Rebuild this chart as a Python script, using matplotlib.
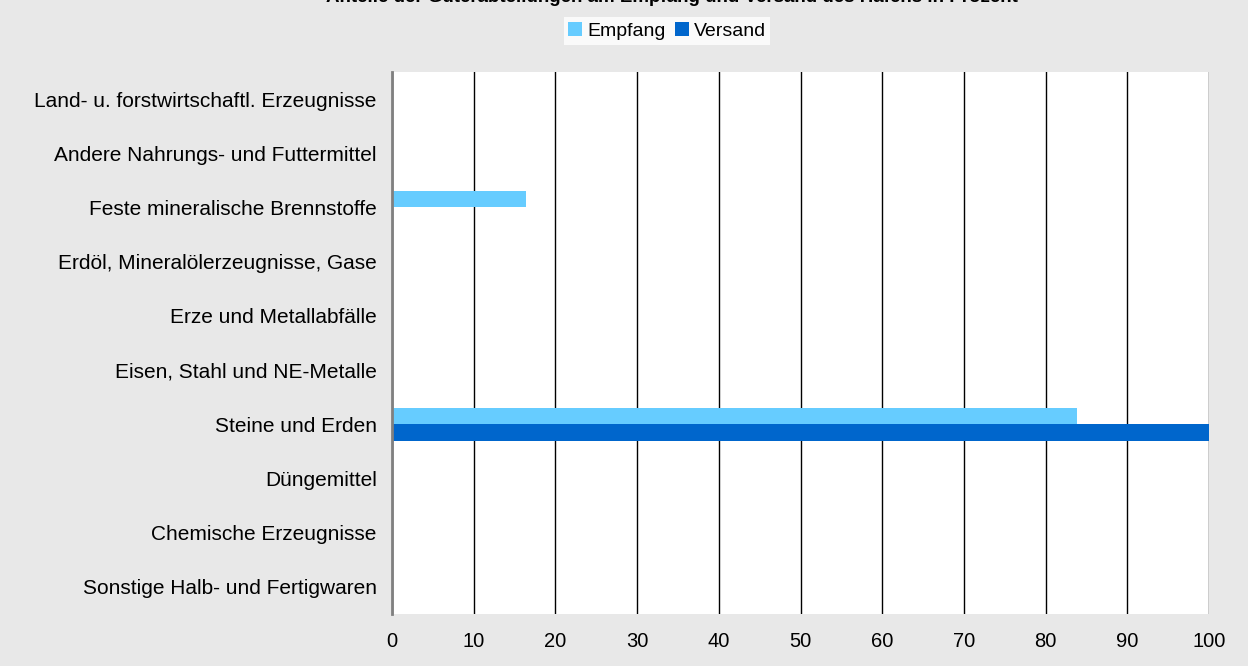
import numpy as np
import matplotlib.pyplot as plt

plt.rcParams['font.family'] = ['Liberation Sans', 'DejaVu Sans']

categories = ['Land- u. forstwirtschaftl. Erzeugnisse',
              'Andere Nahrungs- und Futtermittel',
              'Feste mineralische Brennstoffe',
              'Erdöl, Mineralölerzeugnisse, Gase',
              'Erze und Metallabfälle',
              'Eisen, Stahl und NE-Metalle',
              'Steine und Erden',
              'Düngemittel',
              'Chemische Erzeugnisse',
              'Sonstige Halb- und Fertigwaren']
empfang = [0, 0, 16.4, 0, 0, 0, 83.9, 0, 0, 0]
versand = [0, 0, 0, 0, 0, 0, 100, 0, 0, 0]
xticks = [0, 10, 20, 30, 40, 50, 60, 70, 80, 90, 100]
title = 'Anteile der Güterabteilungen am Empfang und Versand des Hafens in Prozent'

bg = '#e8e8e8'
fig = plt.figure(figsize=(12.48, 6.66), dpi=100, facecolor=bg)
ax = fig.add_axes([392/1248, 1 - 614/666, (1209-392)/1248, (614-72)/666])

y = np.arange(len(categories))
h = 0.3
ax.barh(y - h/2, empfang, height=h, color='#66ccff', label='Empfang', zorder=3)
ax.barh(y + h/2, versand, height=h, color='#0066cc', label='Versand', zorder=3)

ax.set_xlim(0, 100)
ax.set_ylim(len(categories) - 0.5, -0.5)
ax.set_yticks(y)
ax.set_yticklabels(categories, fontsize=15)
ax.set_xticks(xticks)
ax.set_xticklabels([str(t) for t in xticks], fontsize=14.5)
ax.tick_params(axis='both', length=0)
ax.tick_params(axis='x', pad=13)
ax.tick_params(axis='y', pad=11)
ax.grid(axis='x', color='black', linewidth=1, zorder=1)
for s in ['top', 'right', 'bottom']:
    ax.spines[s].set_visible(False)
ax.spines['left'].set_color('#808080')
ax.spines['left'].set_linewidth(2)
ax.spines['left'].set_zorder(4)

# title sits mostly above the top edge, as in the reference
fig.text(672/1248, 1 - 2.2/666, title, ha='center', va='baseline', fontsize=13.5, fontweight='bold')

leg = fig.legend(loc='center', bbox_to_anchor=(667/1248, 1 - 31/666), ncol=2,
                 frameon=True, fancybox=False, edgecolor='white', fontsize=14,
                 handlelength=0.7, handleheight=0.7, handletextpad=0.25, columnspacing=0.5,
                 borderpad=0.25, borderaxespad=0)
leg.get_frame().set_linewidth(0)

fig.savefig('out.png', dpi=100, facecolor=bg)
